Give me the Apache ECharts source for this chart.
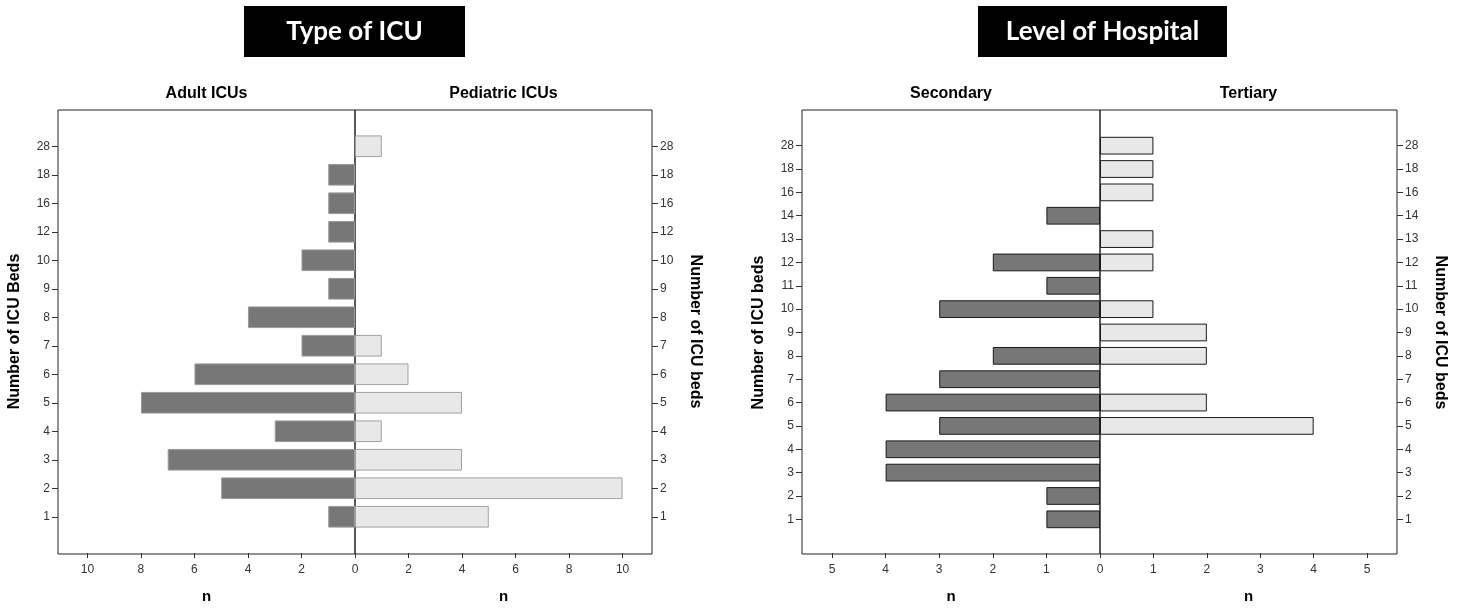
<!DOCTYPE html>
<html>
<head>
<meta charset="utf-8">
<script src="https://cdn.jsdelivr.net/npm/echarts@6/dist/echarts.min.js"></script>
<style>
  html, body { margin: 0; padding: 0; background: #fff; }
  #chart { width: 1461px; height: 609px; }
</style>
</head>
<body>
<div id="chart"></div>
<script>
// ---- Data ----
const icuCategories = ['1', '2', '3', '4', '5', '6', '7', '8', '9', '10', '12', '16', '18', '28'];
const adultICUs     = [1, 5, 7, 3, 8, 6, 2, 4, 1, 2, 1, 1, 1, 0];
const pediatricICUs = [5, 10, 4, 1, 4, 2, 1, 0, 0, 0, 0, 0, 0, 1];
const icuTicks      = [0, 2, 4, 6, 8, 10];

const hospCategories = ['1', '2', '3', '4', '5', '6', '7', '8', '9', '10', '11', '12', '13', '14', '16', '18', '28'];
const secondaryHosp  = [1, 1, 4, 4, 3, 4, 3, 2, 0, 3, 1, 2, 0, 1, 0, 0, 0];
const tertiaryHosp   = [0, 0, 0, 0, 4, 2, 0, 2, 2, 1, 0, 1, 1, 0, 1, 1, 1];
const hospTicks      = [0, 1, 2, 3, 4, 5];

// ---- Layout ----
const FRAME_TOP = 110, FRAME_H = 444;
const panels = [
  { L: 58, C: 355, R: 652, innerTop: 132, innerH: 400, max: 11.1,
    cats: icuCategories, left: adultICUs, right: pediatricICUs, ticks: icuTicks,
    leftTitle: 'Adult ICUs', rightTitle: 'Pediatric ICUs',
    leftYName: 'Number of ICU Beds', rightYName: 'Number of ICU beds',
    darkBorder: '#9a9a9a', lightBorder: '#a0a0a0' },
  { L: 802, C: 1100, R: 1397, innerTop: 134, innerH: 398, max: 5.56,
    cats: hospCategories, left: secondaryHosp, right: tertiaryHosp, ticks: hospTicks,
    leftTitle: 'Secondary', rightTitle: 'Tertiary',
    leftYName: 'Number of ICU beds', rightYName: 'Number of ICU beds',
    darkBorder: '#1a1a1a', lightBorder: '#1a1a1a' }
];

const tickFont = { fontFamily: 'Liberation Sans', fontSize: 12, color: '#333' };
const nameFont = { fontFamily: 'Liberation Sans', fontSize: 16, fontWeight: 'bold', color: '#000' };

const grid = [], xAxis = [], yAxis = [], series = [];

panels.forEach(p => {
  const frameBottom = FRAME_TOP + FRAME_H;
  const innerBottom = p.innerTop + p.innerH;
  const offset = frameBottom - innerBottom;
  const halves = [
    { side: 'left', x0: p.L, w: p.C - p.L, data: p.left, title: p.leftTitle, yName: p.leftYName,
      color: '#777777', border: p.darkBorder },
    { side: 'right', x0: p.C, w: p.R - p.C, data: p.right, title: p.rightTitle, yName: p.rightYName,
      color: '#e8e8e8', border: p.lightBorder }
  ];
  halves.forEach(h => {
    // frame grid (border + panel title)
    const fi = grid.length;
    grid.push({ left: h.x0, top: FRAME_TOP, width: h.w, height: FRAME_H, show: true,
      borderColor: '#222', borderWidth: 1, backgroundColor: 'transparent' });
    xAxis.push({ gridIndex: fi, type: 'value', position: 'top', min: 0, max: 1,
      axisLine: { show: false }, axisTick: { show: false }, axisLabel: { show: false },
      splitLine: { show: false },
      name: h.title, nameLocation: 'middle', nameGap: 8,
      nameTextStyle: { fontFamily: 'Liberation Sans', fontSize: 16, fontWeight: 'bold', color: '#000' } });
    yAxis.push({ gridIndex: fi, type: 'value', show: false, min: 0, max: 1 });

    // bar grid
    const bi = grid.length;
    grid.push({ left: h.x0, top: p.innerTop, width: h.w, height: p.innerH, show: false });
    xAxis.push({ gridIndex: bi, type: 'value', min: 0, max: p.max, inverse: h.side === 'left',
      position: 'bottom', offset: offset,
      axisLine: { show: false },
      axisTick: { show: true, length: 5, customValues: p.ticks, lineStyle: { color: '#333' } },
      axisLabel: Object.assign({ margin: 11,
        customValues: h.side === 'left' ? p.ticks : p.ticks.filter(v => v !== 0) }, tickFont),
      splitLine: { show: false },
      name: 'n', nameLocation: 'middle', nameGap: 36,
      nameTextStyle: { fontFamily: 'Liberation Sans', fontSize: 15, fontWeight: 'bold', color: '#000' } });
    yAxis.push({ gridIndex: bi, type: 'category', data: p.cats, position: h.side,
      axisLine: { show: false, onZero: false },
      axisTick: { show: true, alignWithLabel: true, length: 6, lineStyle: { color: '#333' } },
      axisLabel: Object.assign({ margin: 8 }, tickFont),
      splitLine: { show: false },
      name: h.yName, nameLocation: 'middle', nameGap: 35,
      nameRotate: h.side === 'left' ? 90 : -90,
      nameTextStyle: nameFont });
    series.push({ type: 'bar', xAxisIndex: bi, yAxisIndex: bi,
      data: h.data.map(v => (v === 0 ? '-' : v)),
      barCategoryGap: '24%',
      itemStyle: { color: h.color, borderColor: h.border, borderWidth: 1 },
      silent: true });
  });
});

const headerFont = 'bold 26px Lato';
const option = {
  animation: false,
  backgroundColor: '#ffffff',
  grid, xAxis, yAxis, series,
  graphic: [
    { type: 'rect', left: 244, top: 6, shape: { width: 221, height: 51 }, style: { fill: '#000' } },
    { type: 'text', x: 354.5, y: 32, style: { text: 'Type of ICU', fill: '#fff', font: headerFont,
      align: 'center', verticalAlign: 'middle' } },
    { type: 'rect', left: 978, top: 6, shape: { width: 249, height: 51 }, style: { fill: '#000' } },
    { type: 'text', x: 1102.5, y: 32, style: { text: 'Level of Hospital', fill: '#fff', font: headerFont,
      align: 'center', verticalAlign: 'middle' } }
  ]
};

const chart = echarts.init(document.getElementById('chart'), null, { renderer: 'canvas' });
chart.setOption(option);
</script>
</body>
</html>
